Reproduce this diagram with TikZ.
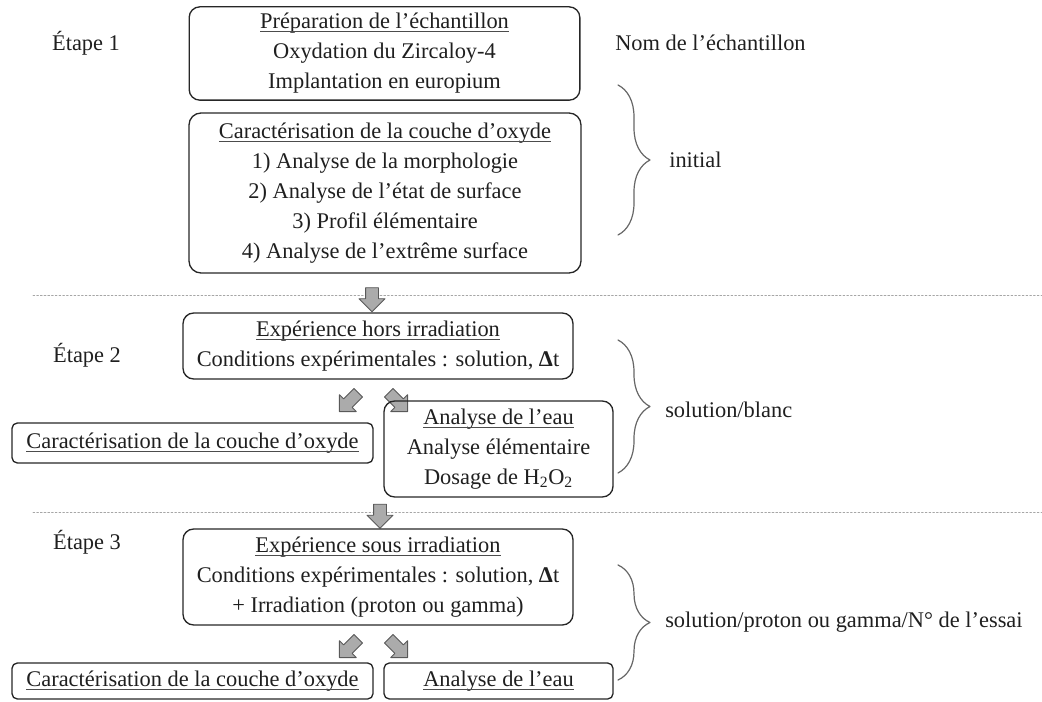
\documentclass[tikz,border=0pt]{standalone}
\usepackage{fontspec}
\setmainfont{Liberation Serif}
\usetikzlibrary{shapes.arrows,decorations.pathreplacing}
\newsavebox\soulbox
\newcommand\souligne[1]{\sbox\soulbox{#1}\rlap{\usebox\soulbox}{\color{black!70}\rule[-2.4pt]{\wd\soulbox}{0.7pt}}}

\begin{document}
\begin{tikzpicture}[x=0.75pt,y=-0.75pt,line cap=round,line join=round,
  every node/.style={inner sep=0pt,text=black!88,font=\fontsize{16.8}{22.5}\selectfont},
  box/.style={draw=black!85,line width=1pt,rounded corners=8pt,align=center},
  smallbox/.style={box,rounded corners=4pt},
  fatarrow/.style={single arrow,draw=black!65,fill=black!33,line width=0.7pt,
    inner xsep=0pt,inner ysep=4.5pt,single arrow head extend=4.9pt,minimum height=18pt},
  thinarrow/.style={fatarrow,inner ysep=4.2pt,single arrow head extend=4.4pt,minimum height=20pt},
  sep/.style={gray!70,line width=0.7pt,dash pattern=on 1.2pt off 1.6pt},
  accolade/.style={gray!80!black,line width=0.9pt,decorate,
    decoration={brace,amplitude=24pt,aspect=0.5}}]
  \useasboundingbox (0,0) rectangle (1042,702);
  % 第一步：样品制备与表征
  \node (e1) at (86,43) {Étape 1};
  \node[box,minimum width=293pt,minimum height=70pt] (prep) at (384.5,53.5)
    {\souligne{Préparation de l’échantillon}\\Oxydation du Zircaloy-4\\Implantation en europium};
  \node[anchor=west] (nom) at (615,43) {Nom de l’échantillon};
  \node[box,minimum width=294pt,minimum height=120pt,rounded corners=9pt] (carac1) at (385,193)
    {\souligne{Caractérisation de la couche d’oxyde}\\1) Analyse de la morphologie\\2) Analyse de l’état de surface\\3) Profil élémentaire\\4) Analyse de l’extrême surface};
  \draw[accolade] (618,85) -- (618,235);
  \node[anchor=west] (ini) at (669,160) {initial};
  % 分隔线
  \draw[sep] (33,295) -- (1042,295);
  \node[fatarrow,rotate=-90] (f1) at (372,296.5) {};
  % 第二步：非辐照实验
  \node (e2) at (87,355) {Étape 2};
  \node[box,minimum width=292.5pt,minimum height=49.5pt] (hors) at (378,346)
    {\souligne{Expérience hors irradiation}\\Conditions expérimentales : solution, \textbf{Δ}t};
  \node[thinarrow,rotate=-135] (f2) at (351,400) {};
  \node[thinarrow,rotate=-45] (f3) at (396,400) {};
  \node[smallbox,minimum width=270.75pt,minimum height=30pt] (carac2) at (192.5,443)
    {\souligne{Caractérisation de la couche d’oxyde}};
  \node[box,minimum width=171.75pt,minimum height=72pt] (eau2) at (498.5,449)
    {\souligne{Analyse de l’eau}\\Analyse élémentaire\\Dosage de H\textsubscript{2}O\textsubscript{2}};
  \draw[accolade] (618,340) -- (618,473);
  \node[anchor=west] (blanc) at (665,410) {solution/blanc};
  % 分隔线
  \draw[sep] (33,512) -- (1042,512);
  \node[fatarrow,rotate=-90] (f4) at (380,513) {};
  % 第三步：辐照实验
  \node (e3) at (87,542) {Étape 3};
  \node[box,minimum width=292.5pt,minimum height=72pt] (sous) at (378,577)
    {\souligne{Expérience sous irradiation}\\Conditions expérimentales : solution, \textbf{Δ}t\\+ Irradiation (proton ou gamma)};
  \node[thinarrow,rotate=-135] (f5) at (351,646) {};
  \node[thinarrow,rotate=-45] (f6) at (396,646) {};
  \node[smallbox,minimum width=270.75pt,minimum height=27pt] (carac3) at (192.5,681)
    {\souligne{Caractérisation de la couche d’oxyde}};
  \node[smallbox,minimum width=171.75pt,minimum height=27pt] (eau3) at (498.5,681)
    {\souligne{Analyse de l’eau}};
  \draw[accolade] (618,565) -- (618,680);
  \node[anchor=west] (essai) at (665,622) {solution/proton ou gamma/N° de l’essai};
\end{tikzpicture}
\end{document}
